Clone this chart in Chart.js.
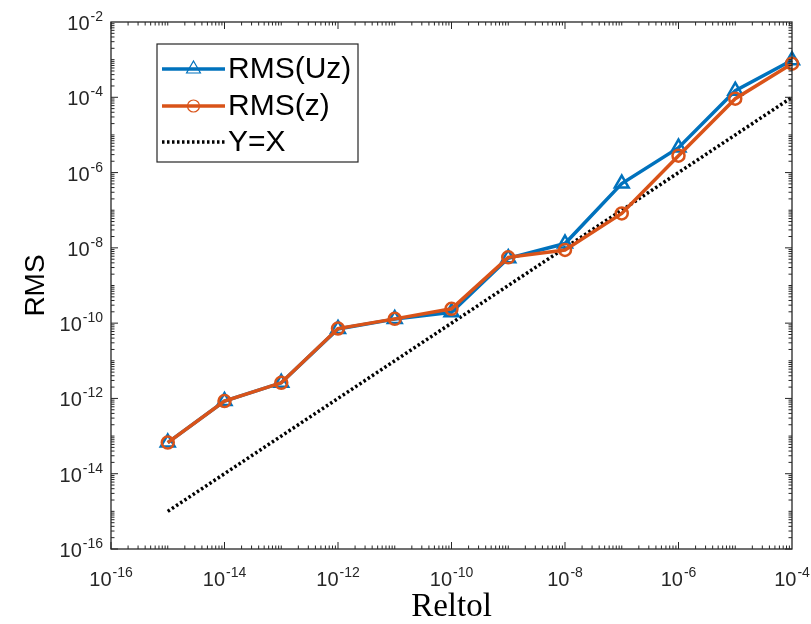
<!DOCTYPE html>
<html>
<head>
<meta charset="utf-8">
<script src="https://cdn.jsdelivr.net/npm/chart.js@4/dist/chart.umd.min.js"></script>
<style>
  html, body { margin: 0; padding: 0; background: #ffffff; }
  #wrap { width: 811px; height: 624px; }
</style>
</head>
<body>
<div id="wrap"><canvas id="c" width="811" height="624"></canvas></div>
<script>
// Relative tolerance settings used in the runs
const reltol = [1e-15, 1e-14, 1e-13, 1e-12, 1e-11, 1e-10, 1e-9, 1e-8, 1e-7, 1e-6, 1e-5, 1e-4];
// RMS error of Uz
const rmsUz = [6.7e-14, 8.5e-13, 2.6e-12, 7.0e-11, 1.28e-10, 1.95e-10, 5.3e-9, 1.3e-8, 5.1e-7, 4.6e-6, 1.5e-4, 9.6e-4];
// RMS error of z
const rmsZ = [6.7e-14, 8.5e-13, 2.6e-12, 7.2e-11, 1.30e-10, 2.4e-10, 5.6e-9, 8.8e-9, 8.2e-8, 2.8e-6, 9.2e-5, 7.8e-4];
// Reference line Y = X
const refX = [1e-15, 1e-4];
const refY = [1e-15, 1e-4];
// Labelled decades on each axis
const xTickExp = [-16, -14, -12, -10, -8, -6, -4];
const yTickExp = [-16, -14, -12, -10, -8, -6, -4, -2];
const seriesLabels = ['RMS(Uz)', 'RMS(z)', 'Y=X'];
const axisTitles = { x: 'Reltol', y: 'RMS' };

const BLUE = '#0072BD';
const ORANGE = '#D95319';
const AXIS = '#262626';
const SANS = '"Liberation Sans", Arial, Helvetica, sans-serif';
const SERIF = '"Liberation Serif", "Times New Roman", serif';

const toXY = (xs, ys) => xs.map((x, i) => ({ x: x, y: ys[i] }));

// Draws a "10^n" label with a raised exponent
function drawPow(ctx, exp, x, y, align) {
  const base = '10';
  const sup = String(exp);
  ctx.font = '20px ' + SANS;
  const w1 = ctx.measureText(base).width;
  ctx.font = '14px ' + SANS;
  const w2 = ctx.measureText(sup).width;
  const w = w1 + w2 + 1;
  const sx = align === 'right' ? x - w : x - w / 2;
  ctx.textAlign = 'left';
  ctx.textBaseline = 'alphabetic';
  ctx.font = '20px ' + SANS;
  ctx.fillText(base, sx, y);
  ctx.font = '14px ' + SANS;
  ctx.fillText(sup, sx + w1 + 1, y - 9);
}

const axesPlugin = {
  id: 'matlabAxes',
  afterDatasetsDraw(chart) {
    const ctx = chart.ctx;
    const xs = chart.scales.x, ys = chart.scales.y;
    const a = chart.chartArea;
    ctx.save();
    // box
    ctx.strokeStyle = AXIS;
    ctx.lineWidth = 1.3;
    ctx.strokeRect(a.left, a.top, a.right - a.left, a.bottom - a.top);

    // ticks (inside, mirrored on opposite sides)
    const major = 7, minor = 3.5;
    ctx.lineWidth = 1;
    ctx.beginPath();
    for (let e = -16; e <= -5; e++) {
      for (let k = 1; k <= 9; k++) {
        const v = k * Math.pow(10, e);
        const len = (k === 1 && e % 2 === 0) ? major : minor;
        const px = xs.getPixelForValue(v);
        if (px >= a.left - 0.5 && px <= a.right + 0.5) {
          ctx.moveTo(px, a.bottom); ctx.lineTo(px, a.bottom - len);
          ctx.moveTo(px, a.top); ctx.lineTo(px, a.top + len);
        }
      }
    }
    for (let e = -16; e <= -3; e++) {
      for (let k = 1; k <= 9; k++) {
        const v = k * Math.pow(10, e);
        const len = (k === 1 && e % 2 === 0) ? major : minor;
        const py = ys.getPixelForValue(v);
        if (py >= a.top - 0.5 && py <= a.bottom + 0.5) {
          ctx.moveTo(a.left, py); ctx.lineTo(a.left + len, py);
          ctx.moveTo(a.right, py); ctx.lineTo(a.right - len, py);
        }
      }
    }
    ctx.stroke();

    // tick labels
    ctx.fillStyle = AXIS;
    xTickExp.forEach(e => drawPow(ctx, e, xs.getPixelForValue(Math.pow(10, e)), a.bottom + 37, 'center'));
    yTickExp.forEach(e => drawPow(ctx, e, a.left - 8, ys.getPixelForValue(Math.pow(10, e)) + 8, 'right'));

    // axis titles
    ctx.fillStyle = '#000';
    ctx.textAlign = 'center';
    ctx.textBaseline = 'alphabetic';
    ctx.font = '33px ' + SERIF;
    ctx.fillText(axisTitles.x, (a.left + a.right) / 2, 616);
    ctx.save();
    ctx.translate(44, (a.top + a.bottom) / 2);
    ctx.rotate(-Math.PI / 2);
    ctx.font = '28px ' + SANS;
    ctx.fillText(axisTitles.y, 0, 0);
    ctx.restore();

    // legend
    const lx = 157, ly = 44, lw = 201, lh = 118;
    ctx.fillStyle = '#fff';
    ctx.fillRect(lx, ly, lw, lh);
    ctx.strokeStyle = AXIS;
    ctx.lineWidth = 1.2;
    ctx.strokeRect(lx, ly, lw, lh);
    const rows = [69, 106, 142];
    chart.data.datasets.forEach((ds, i) => {
      const y = rows[i];
      ctx.save();
      ctx.strokeStyle = ds.borderColor;
      ctx.lineWidth = ds.borderWidth;
      ctx.setLineDash(ds.borderDash || []);
      ctx.beginPath();
      ctx.moveTo(162, y); ctx.lineTo(225, y);
      ctx.stroke();
      ctx.restore();
      if (ds.pointRadius > 0) {
        ctx.save();
        ctx.fillStyle = 'rgba(0,0,0,0)';
        ctx.strokeStyle = ds.pointBorderColor;
        Chart.helpers.drawPoint(ctx, {
          pointStyle: ds.pointStyle,
          radius: ds.pointRadius,
          borderWidth: ds.pointBorderWidth,
          rotation: 0
        }, 193.5, y);
        ctx.restore();
      }
      ctx.fillStyle = '#000';
      ctx.textAlign = 'left';
      ctx.textBaseline = 'middle';
      ctx.font = '30px ' + SANS;
      ctx.fillText(ds.label, 228, y + 1);
    });
    ctx.restore();
  }
};

new Chart(document.getElementById('c'), {
  type: 'line',
  data: {
    datasets: [
      {
        label: seriesLabels[0],
        data: toXY(reltol, rmsUz),
        borderColor: BLUE,
        backgroundColor: 'rgba(0,0,0,0)',
        borderWidth: 3.5,
        pointStyle: 'triangle',
        pointRadius: 8,
        pointBorderWidth: 2.5,
        pointBorderColor: BLUE,
        pointBackgroundColor: 'rgba(0,0,0,0)',
        order: 1,
        clip: false
      },
      {
        label: seriesLabels[1],
        data: toXY(reltol, rmsZ),
        borderColor: ORANGE,
        backgroundColor: 'rgba(0,0,0,0)',
        borderWidth: 3.5,
        pointStyle: 'circle',
        pointRadius: 6,
        pointBorderWidth: 2.5,
        pointBorderColor: ORANGE,
        pointBackgroundColor: 'rgba(0,0,0,0)',
        order: 0,
        clip: false
      },
      {
        label: seriesLabels[2],
        data: toXY(refX, refY),
        borderColor: '#000',
        backgroundColor: 'rgba(0,0,0,0)',
        borderWidth: 3.5,
        borderDash: [2.5, 2.5],
        pointRadius: 0,
        order: 2,
        clip: false
      }
    ]
  },
  options: {
    responsive: false,
    animation: false,
    devicePixelRatio: 1,
    layout: { padding: { left: 111, right: 19, top: 22, bottom: 75 } },
    plugins: { legend: { display: false }, tooltip: { enabled: false } },
    elements: { line: { tension: 0 } },
    scales: {
      x: { type: 'logarithmic', min: 1e-16, max: 1e-4, display: false },
      y: { type: 'logarithmic', min: 1e-16, max: 1e-2, display: false }
    }
  },
  plugins: [axesPlugin]
});
</script>
</body>
</html>
